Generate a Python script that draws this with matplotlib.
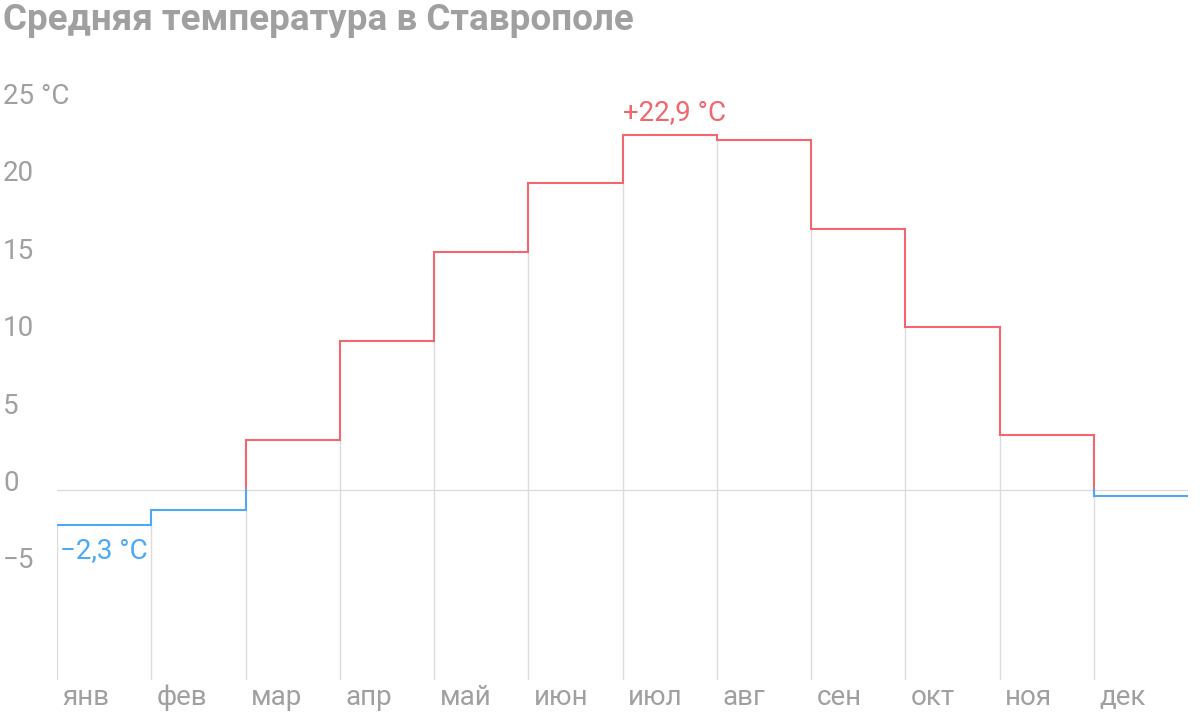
import matplotlib
matplotlib.use("Agg")
import matplotlib.pyplot as plt

months = ["янв","фев","мар","апр","май","июн","июл","авг","сен","окт","ноя","дек"]
temps = [-2.3, -1.35, 3.2, 9.6, 15.35, 19.8, 22.9, 22.6, 16.8, 10.5, 3.5, -0.4]
yticks = [25, 20, 15, 10, 5, 0, -5]

RED = "#f2666e"; BLUE = "#4da8f5"; GRID = "#dcdcdc"; GRAY = "#a0a0a0"
FS = 20
fig = plt.figure(figsize=(12, 7.13), dpi=100)
ax = fig.add_axes([57/1200, 1-680/713, (1188-57)/1200, (680-102.5)/713])
ymin, ymax = -12.3, 25
ax.set_xlim(0, 12); ax.set_ylim(ymin, ymax); ax.axis("off")
ax.axhline(0, color=GRID, lw=1, zorder=1)
for i in range(12):
    top = temps[0] if i == 0 else min(temps[i-1], temps[i])
    ax.plot([i, i], [ymin, top], color=GRID, lw=1, zorder=1)
for i, v in enumerate(temps):
    ax.plot([i, i+1], [v, v], color=RED if v >= 0 else BLUE, lw=1.5, zorder=3, solid_capstyle="butt")
    ax.text(i+0.06, ymin-1.1, months[i], color=GRAY, fontsize=FS, va="center", ha="left", family="Roboto", clip_on=False)
for i in range(1, 12):
    a, b = sorted((temps[i-1], temps[i]))
    if b > 0:
        ax.plot([i, i], [max(a, 0), b], color=RED, lw=1.5, zorder=3)
    if a < 0:
        ax.plot([i, i], [a, min(b, 0)], color=BLUE, lw=1.5, zorder=3)
for t in yticks:
    lab = f"{t} °C" if t == 25 else (f"\u2212{abs(t)}" if t < 0 else str(t))
    y = fig.transFigure.inverted().transform(ax.transData.transform((0, t)))[1] + 6/713
    fig.text(3/1200, y, lab, color=GRAY, fontsize=FS, va="center", ha="left", family="Roboto")
ax.text(6.55, 24.3, "+22,9 °C", color=RED, fontsize=FS, ha="center", va="center", family="Roboto")
ax.text(0.03, -4.0, "\u22122,3 °C", color=BLUE, fontsize=FS, ha="left", va="center", family="Roboto")
fig.text(3/1200, 1-20/713, "Средняя температура в Ставрополе", color=GRAY, fontsize=26.5,
         fontweight="bold", ha="left", va="center", family="Roboto")
fig.savefig("out.png", dpi=100)
